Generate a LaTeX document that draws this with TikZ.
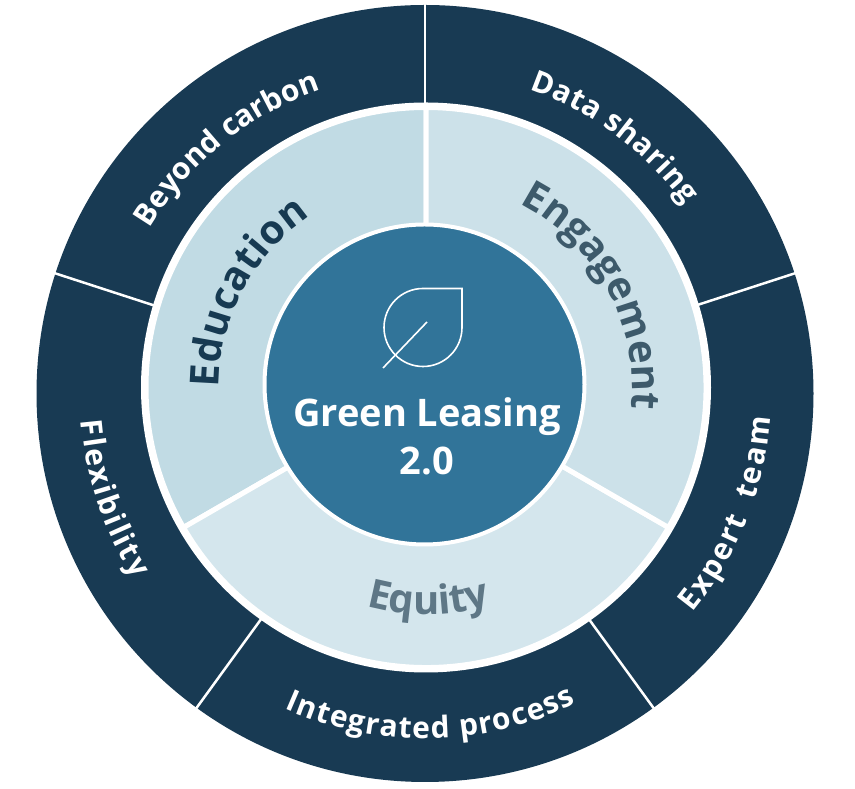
\documentclass[tikz,border=0pt]{standalone}
\usepackage{fontspec}
\setmainfont{Open Sans}
\usetikzlibrary{calc}
\usetikzlibrary{decorations.text}
\definecolor{navy}{HTML}{183A53}
\definecolor{hubblue}{HTML}{317499}
\definecolor{edufill}{HTML}{C1DBE4}
\definecolor{engfill}{HTML}{CCE1E9}
\definecolor{equfill}{HTML}{D4E6ED}
\definecolor{edutext}{HTML}{173A52}
\definecolor{engtext}{HTML}{3D5A6B}
\definecolor{equtext}{HTML}{5E7786}
\newcommand\ringfont{\fontsize{30}{33}\selectfont\bfseries\color{white}}
\newcommand\sectorfont{\fontsize{40}{44}\selectfont\bfseries}
\tikzset{
	spoke/.style={draw=white, line width=2.5pt},
	slice/.style={draw=white, line width=5pt},
	icon/.style={draw=white, line width=1.6pt},
	ringlabel/.style={
		decorate,
		decoration={text along path, text align=fit to path,
			text={|\ringfont|#1}}},
	sectorlabel/.style 2 args={
		decorate,
		decoration={text along path, text align=fit to path,
			text={|\sectorfont\color{#1}|#2}}},
	hublabel/.style={
		text=white,
		align=center,
		font=\fontsize{38}{48}\selectfont\bfseries},
}

\begin{document}
\begin{tikzpicture}[x=1pt, y=1pt]
	\useasboundingbox (0,0) rectangle (855,789);
	\coordinate (rim) at (425,395.5);
	\coordinate (mid) at (426,401.5);
	\coordinate (hub) at (424.5,404.5);

	% outer ring
	\fill[navy] (rim) circle[radius=388.5pt];
	\foreach \a in {18,90,...,306}
		\draw[spoke] ($(rim)+(\a:250pt)$) -- ($(rim)+(\a:392pt)$);

	% middle ring
	\fill[white] (mid) circle[radius=285pt];
	\foreach \a/\c in {90/edufill, 210/equfill, 330/engfill}
		\filldraw[slice, fill=\c] (mid) -- ++(\a:280pt) arc[start angle=\a, end angle=\a+120, radius=280pt] -- cycle;

	% hub
	\filldraw[fill=hubblue, draw=white, line width=4pt] (hub) circle[radius=160pt];
	\coordinate (leaf) at (423,461.5);
	\draw[icon] ($(leaf)+(0,39)$) -- ++(39,0) -- ++(0,-39) arc[start angle=0, end angle=-270, radius=39pt] -- cycle;
	\draw[icon] ($(leaf)+(-40,-40.5)$) -- ($(leaf)+(4,5.5)$);
	\node[hublabel] (title) at (427,353) {Green Leasing\\2.0};

	% sector labels
	\path[sectorlabel={edutext}{Education}] ($(mid)+(180:207pt)$) arc[start angle=180, end angle=124, radius=207pt];
	\path[sectorlabel={engtext}{Engagement}] ($(mid)+(63:206pt)$) arc[start angle=63, end angle=-4, radius=206pt];
	\path[sectorlabel={equtext}{Equity}] ($(mid)+(254.7:227pt)$) arc[start angle=254.7, end angle=286.1, radius=227pt];

	% ring labels
	\path[ringlabel={Beyond carbon}] ($(rim)+(149:321pt)$) arc[start angle=149, end angle=109, radius=321pt];
	\path[ringlabel={Data sharing}] ($(rim)+(71:321pt)$) arc[start angle=71, end angle=36, radius=321pt];
	\path[ringlabel={Flexibility}] ($(rim)+(184.5:345pt)$) arc[start angle=184.5, end angle=212.5, radius=345pt];
	\path[ringlabel={Integrated process}] ($(rim)+(246:345pt)$) arc[start angle=246, end angle=296, radius=345pt];
	\path[ringlabel={Expert{\ \ }team}] ($(rim)+(320.7:346pt)$) arc[start angle=320.7, end angle=356, radius=346pt];
\end{tikzpicture}
\end{document}
